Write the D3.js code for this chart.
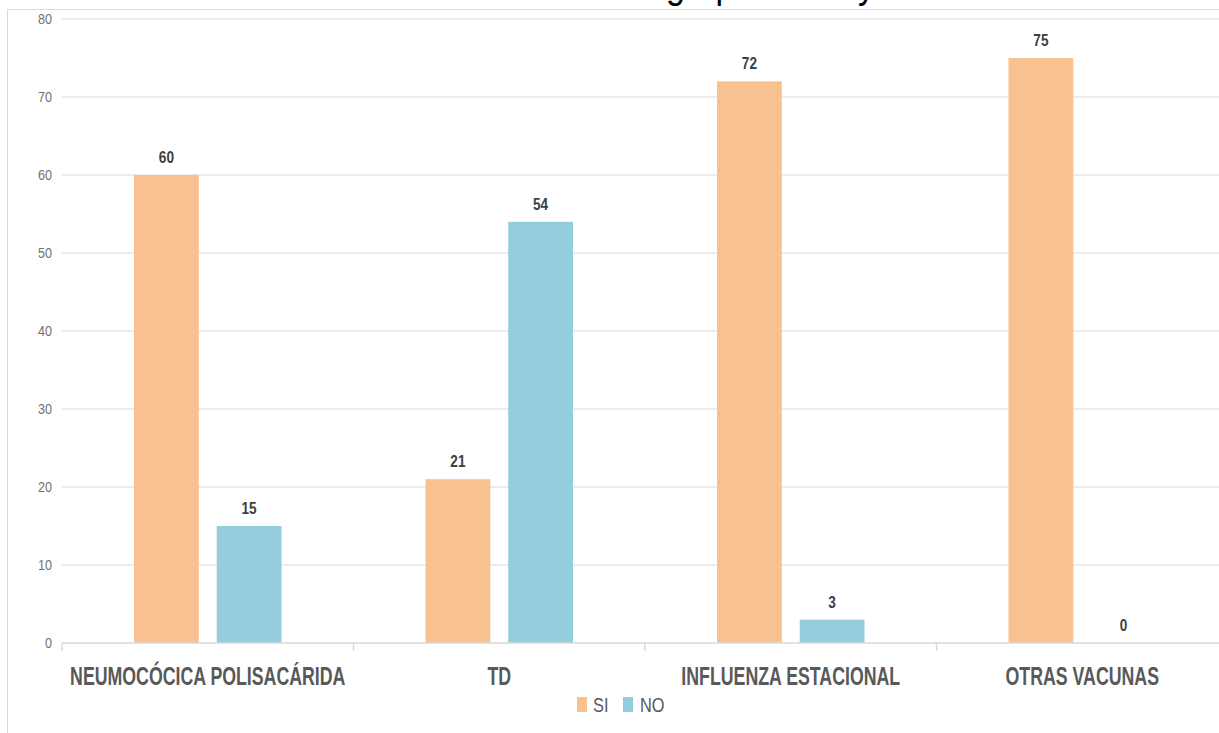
<!DOCTYPE html>
<html>
<head>
<meta charset="utf-8">
<script src="https://cdn.jsdelivr.net/npm/d3@7"></script>
<style>
html,body{margin:0;padding:0;background:#fff;overflow:hidden}
svg{display:block}
text{font-family:"Liberation Sans",Arial,sans-serif}
</style>
</head>
<body>
<svg id="chart" width="1219" height="733"></svg>
<script>
const categories = ["NEUMOCÓCICA POLISACÁRIDA", "TD", "INFLUENZA ESTACIONAL", "OTRAS VACUNAS"];
const seriesNames = ["SI", "NO"];
const siValues = [60, 21, 72, 75];
const noValues = [15, 54, 3, 0];
const yTicks = [0, 10, 20, 30, 40, 50, 60, 70, 80];
const colors = {SI: "#F9C18F", NO: "#94CDDD"};
const titleStart = "Vacunación del ";
const titleRest = "grupo etario y sexo";

(function () {
const svg = d3.select("#chart");

// chart border
svg.append("rect").attr("x", 7.5).attr("y", 9.5).attr("width", 1400).attr("height", 900)
  .attr("fill", "none").attr("stroke", "#D9D9D9").attr("stroke-width", 1);

// cut-off title (only descenders visible)
svg.append("text").attr("transform", "translate(666,-2) scale(0.9,1)")
  .attr("font-size", 38).attr("fill", "#000").text(titleRest);
svg.append("text").attr("transform", "translate(666,-2) scale(0.9,1)")
  .attr("text-anchor", "end").attr("font-size", 38).attr("fill", "#000").text(titleStart);

const pLeft = 62, pRight = 1228, pTop = 19, pBottom = 643;
const y = d3.scaleLinear().domain([0, 80]).range([pBottom, pTop]);
const x0 = d3.scaleBand().domain(categories).range([pLeft, pRight]).paddingInner(0).paddingOuter(0);
const bw = x0.bandwidth();
const x1 = d3.scaleBand().domain(seriesNames).range([72, bw - 72]).paddingInner(18 / 83).paddingOuter(0);

// gridlines
svg.append("g").selectAll("line").data(yTicks.filter(d => d > 0)).join("line")
  .attr("x1", pLeft).attr("x2", pRight).attr("y1", d => y(d)).attr("y2", d => y(d))
  .attr("stroke", "#D9D9D9").attr("stroke-width", 1.2);

// y labels
svg.append("g").selectAll("text").data(yTicks).join("text")
  .attr("transform", d => `translate(52,${y(d) + 5}) scale(0.9,1)`)
  .attr("text-anchor", "end").attr("font-size", 14).attr("fill", "#707070")
  .text(d => d);

const rows = categories.map((c, i) => ({cat: c, SI: siValues[i], NO: noValues[i]}));

const groups = svg.append("g").selectAll("g").data(rows).join("g")
  .attr("transform", d => `translate(${x0(d.cat)},0)`);

groups.selectAll("rect").data(d => seriesNames.map(s => ({s, v: d[s]}))).join("rect")
  .attr("x", d => x1(d.s)).attr("width", x1.bandwidth())
  .attr("y", d => y(d.v)).attr("height", d => y(0) - y(d.v))
  .attr("fill", d => colors[d.s]);

groups.selectAll("text").data(d => seriesNames.map(s => ({s, v: d[s]}))).join("text")
  .attr("transform", d => `translate(${x1(d.s) + x1.bandwidth() / 2},${y(d.v) - 12}) scale(0.8,1)`)
  .attr("text-anchor", "middle").attr("font-size", 17).attr("font-weight", "bold")
  .attr("fill", "#404040").text(d => d.v);

// x axis line
svg.append("line").attr("x1", pLeft).attr("x2", pRight).attr("y1", pBottom).attr("y2", pBottom)
  .attr("stroke", "#D9D9D9").attr("stroke-width", 1.5);
const boundaries = categories.map(c => x0(c)).concat([pRight]);
svg.append("g").selectAll("line").data(boundaries).join("line")
  .attr("x1", d => d).attr("x2", d => d).attr("y1", pBottom).attr("y2", pBottom + 8)
  .attr("stroke", "#D9D9D9").attr("stroke-width", 1.5);

// category labels
svg.append("g").selectAll("text").data(categories).join("text")
  .attr("transform", c => `translate(${x0(c) + bw / 2},685) scale(0.71,1)`)
  .attr("text-anchor", "middle").attr("font-size", 25).attr("font-weight", "bold")
  .attr("fill", "#595959").text(c => c);

// legend
const legend = svg.append("g");
const legendItems = [{s: "SI", x: 577, tx: 593}, {s: "NO", x: 623, tx: 640}];
legend.selectAll("rect").data(legendItems).join("rect")
  .attr("x", d => d.x).attr("y", 697).attr("width", 10).attr("height", 15)
  .attr("fill", d => colors[d.s]);
legend.selectAll("text").data(legendItems).join("text")
  .attr("transform", d => `translate(${d.tx},712) scale(0.78,1)`)
  .attr("font-size", 21).attr("fill", "#595959").text(d => d.s);
})();
</script>
</body>
</html>
